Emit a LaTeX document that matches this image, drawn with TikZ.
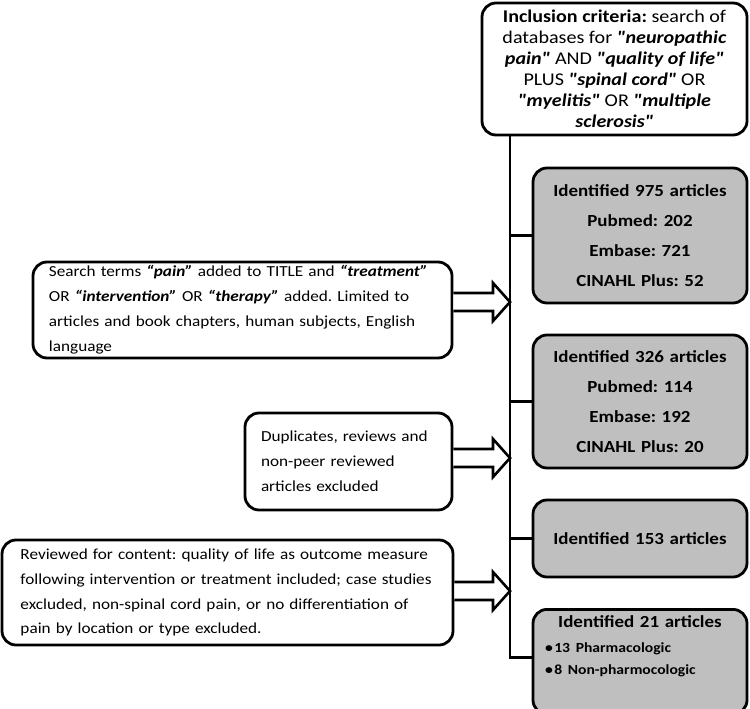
\documentclass[tikz,border=0pt]{standalone}
\usepackage{fontspec}
\setmainfont{Carlito}[Ligatures=TeXOff, FakeStretch=1.12]
\usetikzlibrary{calc}
\newcommand{\bi}[1]{\textbf{\textit{#1}}}
\frenchspacing

\begin{document}
\begin{tikzpicture}[x=1bp, y=-1bp,
    box/.style={draw, line width=2.8bp, rounded corners=14bp, fill=white, inner sep=0pt},
    leftbox/.style={box, align=left, font=\fontsize{15.4}{25}\selectfont},
    countbox/.style={box, fill=black!25, align=center, text width=204bp, font=\bfseries\fontsize{17}{30}\selectfont},
    trunk/.style={line width=2.8bp},
    fatarrow/.style={line width=2.6bp, fill=white, line join=miter}]
\useasboundingbox (0,0) rectangle (750,709);
\node[box, align=center, minimum width=265bp, minimum height=132bp, font=\fontsize{18}{21}\selectfont] (top) at (614.5,69)
    {\textbf{Inclusion criteria:} search of\\ databases for \bi{"neuropathic}\\ \bi{pain"} AND \bi{"quality of life"}\\ PLUS \bi{"spinal cord"} OR\\ \bi{"myelitis"} OR \bi{"multiple}\\ \bi{sclerosis"}};
\node[countbox, minimum width=214bp, minimum height=135bp] (r1) at (640,235.5)
    {Identified 975 articles\\ Pubmed: 202\\ Embase: 721\\ CINAHL Plus: 52};
\node[countbox, minimum width=214bp, minimum height=133bp] (r2) at (640,401.5)
    {Identified 326 articles\\ Pubmed: 114\\ Embase: 192\\ CINAHL Plus: 20};
\node[countbox, minimum width=214bp, minimum height=77bp] (r3) at (640,538.5)
    {Identified 153 articles};
\node[countbox, minimum width=214bp, minimum height=99bp, anchor=north, font=\bfseries\fontsize{17}{22}\selectfont, inner ysep=6bp] (r4) at (640,608)
    {Identified 21 articles\\[3bp]
     \makebox[190bp][l]{\fontsize{14}{22}\selectfont\textbullet\hspace{1.5bp}13 Pharmacologic}\\
     \makebox[190bp][l]{\fontsize{14}{22}\selectfont\textbullet\hspace{1.5bp}8 Non-pharmocologic}\\[12bp]\mbox{}};
\node[leftbox, minimum width=419bp, minimum height=96bp, text width=387bp] (l1) at (242.5,310)
    {Search terms \bi{“pain”} added to TITLE and \bi{“treatment”}\\ OR \bi{“intervention”} OR \bi{“therapy”} added. Limited to\\ articles and book chapters, human subjects, English\\ language};
\node[leftbox, minimum width=207bp, minimum height=97bp, text width=175bp] (l2) at (348.5,461.5)
    {Duplicates, reviews and\\ non-peer reviewed\\ articles excluded};
\node[leftbox, minimum width=451bp, minimum height=105bp, text width=414bp] (l3) at (227.5,592.5)
    {Reviewed for content: quality of life as outcome measure\\ following intervention or treatment included; case studies\\ excluded, non-spinal cord pain, or no differentiation of\\ pain by location or type excluded.};
\coordinate (foot) at (510,657.5);
\coordinate (a1) at (510,302);
\coordinate (a2) at (510,458);
\coordinate (a3) at (510,591);
\draw[trunk] (top.south -| foot) -- (foot) -- (r4.west |- foot);
\foreach \r in {r1,r2,r3}
  \draw[trunk] (\r.west) -- (\r.west -| foot);
\foreach \src/\tip in {l1/a1, l2/a2, l3/a3}
  \draw[fatarrow] ($(\src.east |- \tip)+(0,-9)$) -- ($(\tip)+(-17,-9)$) -- ++(0,-10) -- (\tip)
    -- ($(\tip)+(-17,19)$) -- ++(0,-10) -- ($(\src.east |- \tip)+(0,9)$);
\end{tikzpicture}
\end{document}
